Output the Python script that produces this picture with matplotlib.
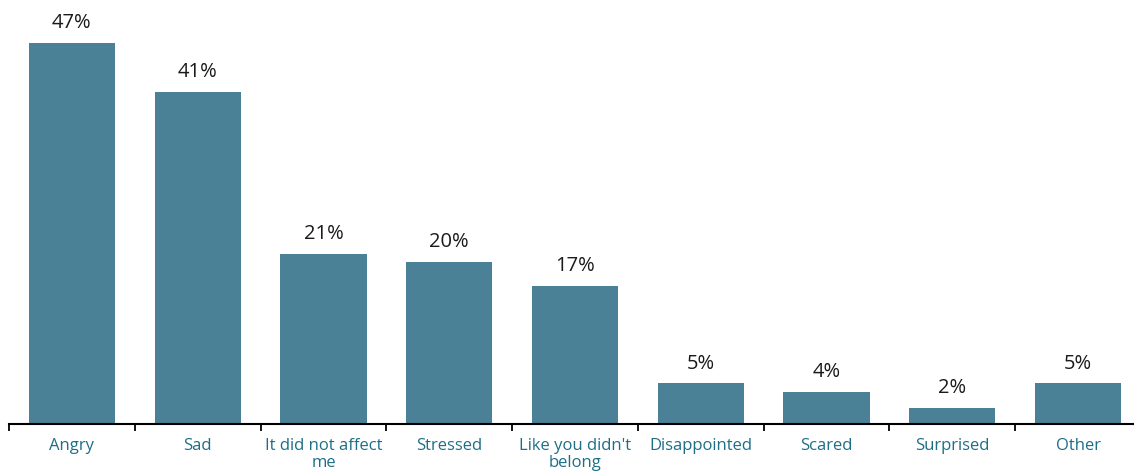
import matplotlib.pyplot as plt
import numpy as np

categories = ['Angry', 'Sad', 'It did not affect\nme', 'Stressed', "Like you didn't\nbelong",
              'Disappointed', 'Scared', 'Surprised', 'Other']
values = [47, 41, 21, 20, 17, 5, 4, 2, 5]

plt.rcParams['font.family'] = ['Open Sans', 'DejaVu Sans']

fig = plt.figure(figsize=(11.34, 4.71), dpi=100)
# axis runs slightly past the right edge, as in the original
ax = fig.add_axes([9 / 1134, 47 / 471, 1132 / 1134, 424 / 471])

x = np.arange(len(categories))
ax.bar(x, values, width=0.685, color='#4a8196')

for xi, v in zip(x, values):
    ax.text(xi, v + 1.2, f'{v}%', ha='center', va='bottom', fontsize=14.5,
            fontweight='normal', color='#1a1a1a')

ax.set_xlim(-0.5, len(categories) - 0.5)
ax.set_ylim(0, 52.3)

ax.set_xticks(x)
ax.set_xticklabels(categories, fontsize=12, color='#1d6f86', linespacing=1.1)
ax.tick_params(axis='x', which='major', length=0, pad=10)
ax.set_xticks(np.arange(len(categories) + 1) - 0.5, minor=True)
ax.tick_params(axis='x', which='minor', length=5, width=1.3, direction='out', color='black')

ax.set_yticks([])
for side in ['top', 'right', 'left']:
    ax.spines[side].set_visible(False)
ax.spines['bottom'].set_linewidth(1.5)

fig.savefig('out.png', dpi=100)
